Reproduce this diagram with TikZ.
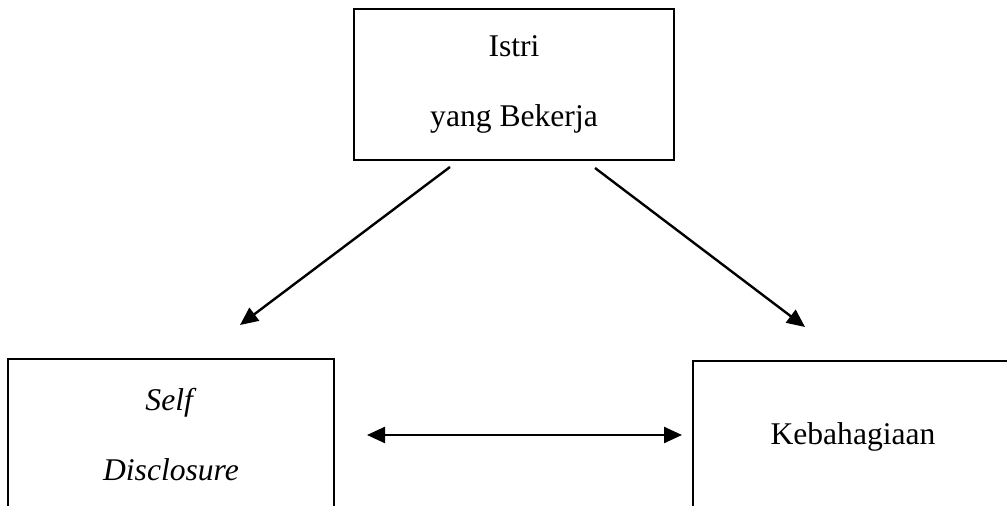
\documentclass[tikz,border=0pt]{standalone}
\usepackage{fontspec}
\setmainfont{Liberation Serif}
\usetikzlibrary{positioning,arrows.meta}

\begin{document}
\begin{tikzpicture}
		[x=0.5pt,y=-0.5pt,>={Triangle[length=9pt,width=8pt]},
		 box/.style={draw,line width=1.1pt,align=center,minimum width=160pt,minimum height=75.5pt,
		   font=\fontsize{15.8}{35}\selectfont},
		 link/.style={line width=1.2pt,->}]
		\useasboundingbox (0,0) rectangle (1007,506);
		\clip (0,0) rectangle (1007,506);

		% draw the three boxes
		\node[box] (istri) at (514,84.5) {Istri\\yang Bekerja};
		\node[box,minimum width=163pt] (self) at (171,434.5) {\textit{Self}\\\textit{Disclosure}};
		\node[box] (bahagia) at (853,436.5) {Kebahagiaan};

		% end points of the arrows
		\coordinate (istriL) at (450,167);
		\coordinate (istriR) at (595,168);
		\coordinate (selfT) at (240,325);
		\coordinate (bahagiaT) at (805,327);
		\coordinate (midL) at (367,435);
		\coordinate (midR) at (682,435);

		%draw the arrows
		\draw [link] (istriL) -- (selfT);
		\draw [link] (istriR) -- (bahagiaT);
		\draw [link,<->] (midL) -- (midR);
	\end{tikzpicture}
\end{document}
